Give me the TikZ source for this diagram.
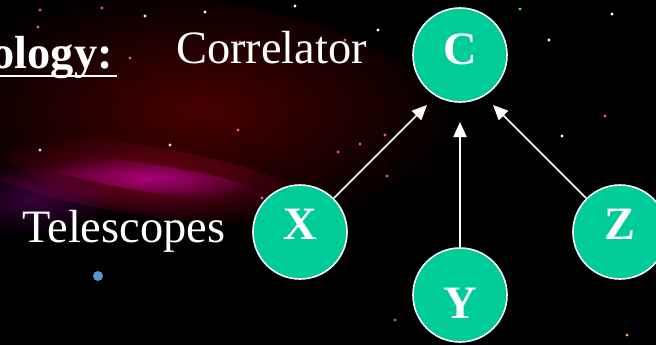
\documentclass[tikz,border=0pt]{standalone}
\usepackage{fontspec}
\setmainfont{Liberation Serif}
\usetikzlibrary{arrows.meta}

\begin{document}
\begin{tikzpicture}[x=0.025cm, y=-0.025cm,
    txt/.style={text=white, inner sep=0pt, font=\fontsize{33}{38}\selectfont},
    tel/.style={circle, fill=tealgreen, draw=white, line width=1.1pt, minimum size=2.35cm, inner sep=0pt},
    lbl/.style={text=white, font=\fontsize{33}{38}\selectfont\bfseries},
    link/.style={draw=white, line width=1.2pt, -{Triangle[length=0.375cm, width=0.33cm]}}]
    \definecolor{tealgreen}{RGB}{0,204,153}

    % Sky
    \useasboundingbox (0,0) rectangle (656,345);
    \clip (0,0) rectangle (656,345);
    \fill[black] (0,0) rectangle (656,345);

    % Nebula glow
    \shade[blend mode=screen, inner color=red!28!black, outer color=black, rotate around={-8:(200,110)}] (200,110) ellipse (260 and 110);
    \shade[blend mode=screen, inner color=purple!45!black, outer color=black, rotate around={-9:(140,180)}] (140,180) ellipse (180 and 35);
    \shade[blend mode=screen, inner color=magenta!40!black, outer color=black, rotate around={-9:(150,178)}] (150,178) ellipse (120 and 14);
    \shade[blend mode=screen, inner color=violet!45!black, outer color=black] (35,200) ellipse (80 and 35);

    % Stars
    \foreach \sx/\sy/\sc in {40/10/magenta, 102/8/magenta, 145/16/white, 205/12/white, 240/42/magenta, 295/6/white,
        378/30/white, 520/9/cyan, 549/40/white, 612/14/white, 38/27/magenta, 130/58/magenta, 345/40/magenta,
        238/130/magenta, 338/152/magenta, 360/144/magenta, 387/176/magenta, 385/135/magenta, 562/136/white,
        605/116/magenta, 40/150/pink, 170/145/pink, 262/198/magenta, 627/335/orange, 395/320/magenta}
        \fill[\sc!70!white] (\sx,\sy) circle (1.6);
    \fill[cyan!60!blue!70!white] (98,276) circle (5);

    % Labels
    \node[txt, anchor=base east, font=\fontsize{33}{38}\selectfont\bfseries] (topo) at (113,68) {ology:};
    \draw[white, line width=1.5pt] ([yshift=-0.2cm]topo.base west) -- ([xshift=0.1cm, yshift=-0.2cm]topo.base east);
    \node[txt, anchor=base west] (corr) at (176,63) {Correlator};
    \node[txt, anchor=base west] (tels) at (22,242) {Telescopes};

    % Correlator and telescopes
    \node[tel, label={[lbl, yshift=0.15cm]center:C}] (C) at (460,55) {};
    \node[tel, label={[lbl, yshift=0.2cm]center:X}] (X) at (300,232) {};
    \node[tel, label={[lbl, yshift=-0.2cm]center:Y}] (Y) at (460,295) {};
    \node[tel, label={[lbl, yshift=0.2cm]center:Z}] (Z) at (620,232) {};

    % Signal paths
    \coordinate (cx) at (427,105);
    \coordinate (cy) at (460,122);
    \coordinate (cz) at (493,105);
    \draw[link] (X.45) -- (cx);
    \draw[link] (Y.north) -- (cy);
    \draw[link] (Z.135) -- (cz);
\end{tikzpicture}
\end{document}
